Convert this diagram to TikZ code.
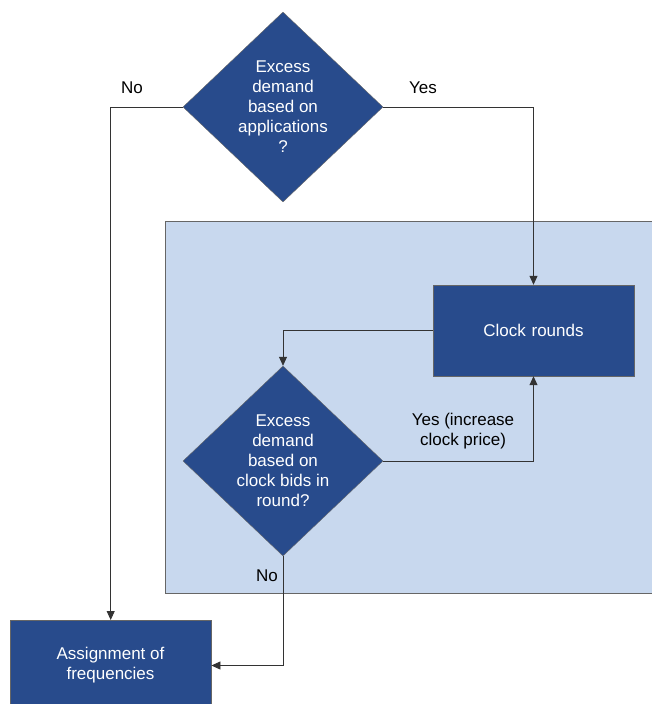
\documentclass[tikz,border=0pt]{standalone}
\usepackage{fontspec}
\setmainfont{Liberation Sans}
\usepackage{xcolor}
\usetikzlibrary{shapes.geometric,arrows.meta}

\definecolor{boxBlue}{RGB}{40,75,140}
\definecolor{phaseBlue}{RGB}{200,216,238}

\begin{document}
\begin{tikzpicture}[x=1pt,y=-1pt,
    decision/.style={diamond, draw=black!60, fill=boxBlue, text=white,
      align=center, inner ysep=0pt, inner xsep=-6pt,
      minimum width=200pt, minimum height=190pt,
      font=\fontsize{17}{20}\selectfont},
    block_center/.style ={rectangle, draw=black!60, fill=boxBlue, text=white,
      text width=180pt, align=center, font=\fontsize{17}{20}\selectfont,
      minimum width=201pt, minimum height=91pt},
    phase/.style ={rectangle, draw=black!60, line width=0.8pt, fill=phaseBlue},
    answer/.style ={font=\fontsize{17}{20}\selectfont, align=center, inner sep=0pt},
    line/.style ={draw, black!80, line width=0.8pt, -{Triangle[length=9pt,width=8pt]}}]
    \useasboundingbox (0,0) rectangle (652,704);
    % shaded area of the clock phase
    \node [phase, anchor=north west, minimum width=500pt, minimum height=372pt] (clkPhase) at (165,221) {};
    % decisions
    \node [decision] (appDec) at (283,107) {Excess\\demand\\based on\\applications\\?};
    \node [decision] (bidDec) at (283,461) {Excess\\demand\\based on\\clock bids in\\round?};
    % blocks
    \node [block_center] (clkRnd) at (533.5,330.5) {Clock rounds};
    \node [block_center, anchor=north west, minimum height=95pt] (assign) at (10,620) {};
    \node [answer, text=white] (assignTxt) at (110.5,665.5) {Assignment of\\frequencies};
    % answers
    \node [answer] (noApp) at (132,88) {No};
    \node [answer] (yesApp) at (423,88) {Yes};
    \node [answer] (yesBid) at (463,431) {Yes (increase\\clock price)};
    \node [answer] (noBid) at (267,576) {No};
    % connecting nodes with paths
    \begin{scope}[every path/.style=line]
      \path (appDec.west) -| (assign.north);
      \path (appDec.east) -| (clkRnd.north);
      \path (clkRnd.west) -| (bidDec.north);
      \path (bidDec.east) -| (clkRnd.south);
      \path (bidDec.south) |- (assign.east |- assignTxt);
    \end{scope}
  \end{tikzpicture}
\end{document}
